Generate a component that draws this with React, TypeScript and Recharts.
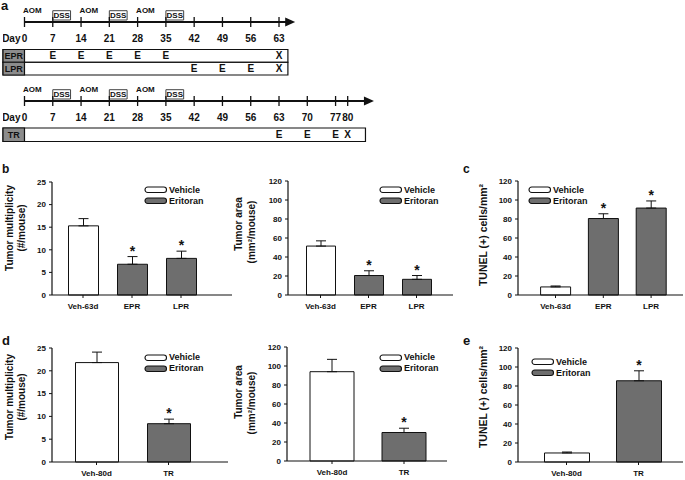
import React from "react";
import {
  BarChart,
  Bar,
  XAxis,
  YAxis,
  Cell,
  ErrorBar,
  LabelList,
  Legend,
  ScatterChart,
  Scatter,
  ReferenceArea,
  ReferenceLine,
} from "recharts";

const FONT = '"Liberation Sans", Arial, Helvetica, sans-serif';
const INK = "#111111";
const WHITE = "#ffffff";
const BAR_GRAY = "#6e6e6e";
const CELL_GRAY = "#8c8c8c";

// schedule (panel a)
const DAYS_A = [0, 7, 14, 21, 28, 35, 42, 49, 56, 63];
const DAYS_B = [0, 7, 14, 21, 28, 35, 42, 49, 56, 63, 70, 77, 80];
const AOM_DAYS = [0, 14, 28];
const DSS_DAYS = [7, 21, 35];
const DSS_LENGTH = 4.4;
const EPR_DOSES = [7, 14, 21, 28, 35];
const LPR_DOSES = [42, 49, 56];
const TR_DOSES = [63, 70, 77];
const END_A = 63;
const END_B = 80;

// bar panels (b-e)
const LEGEND_ITEMS = ["Vehicle", "Eritoran"];
const GROUPS_63 = ["Veh-63d", "EPR", "LPR"];
const MULT_63 = [15.3, 6.8, 8.1];
const MULT_63_ERR = [1.6, 1.7, 1.6];
const AREA_63 = [51.5, 20.5, 16.5];
const AREA_63_ERR = [5.5, 5, 4];
const TUNEL_63 = [8.5, 80.5, 91.5];
const TUNEL_63_ERR = [1, 5, 7.5];
const SIG_63 = [false, true, true];

const GROUPS_80 = ["Veh-80d", "TR"];
const MULT_80 = [21.8, 8.4];
const MULT_80_ERR = [2.3, 1.0];
const AREA_80 = [94, 30];
const AREA_80_ERR = [13, 4.5];
const TUNEL_80 = [9.5, 85.5];
const TUNEL_80_ERR = [1, 10.5];
const SIG_80 = [false, true];

const TICKS_25 = [0, 5, 10, 15, 20, 25];
const TICKS_120 = [0, 20, 40, 60, 80, 100, 120];

const txt = { fontFamily: FONT, fontWeight: 700, fill: INK } as const;

// ---------- schedule ----------
const DAY_PX = 4.04;
const DAY_MIN = -5.32;
const AXIS_TOP = 22;

type ScheduleRow = { name: string; doses: number[]; end: number };
const ROWS_A: ScheduleRow[] = [
  { name: "EPR", doses: EPR_DOSES, end: END_A },
  { name: "LPR", doses: LPR_DOSES, end: END_A },
];
const ROWS_B: ScheduleRow[] = [{ name: "TR", doses: TR_DOSES, end: END_B }];

const TickShape = (p: any) => (
  <g>
    <line x1={p.cx} x2={p.cx} y1={p.cy - 5} y2={p.cy + 5} stroke={INK} strokeWidth={1.3} />
    <text x={p.cx} y={p.cy + 19.5} textAnchor="middle" fontSize={10} {...txt}>
      {p.payload.day}
    </text>
    {p.payload.day === 0 && (
      <text x={p.cx - 4} y={p.cy + 19.5} textAnchor="end" fontSize={10} {...txt}>
        Day
      </text>
    )}
  </g>
);

const AomShape = (p: any) => (
  <text x={p.cx - 1.5} y={p.cy - 9.5} textAnchor="start" fontSize={8} {...txt}>
    AOM
  </text>
);

const MarkShape = (p: any) => (
  <text x={p.cx} y={p.cy + 3.6} textAnchor="middle" fontSize={10} {...txt}>
    {p.payload.mark}
  </text>
);

const ArrowShape = (p: any) => (
  <polygon
    points={`${p.cx},${p.cy} ${p.cx - 10},${p.cy - 4.5} ${p.cx - 10},${p.cy + 4.5}`}
    fill={INK}
  />
);

function Schedule({
  top,
  height,
  maxDay,
  days,
  rows,
  rowGap,
  rowHeight,
  boxEnd,
  lineEnd,
  tipDay,
}: {
  top: number;
  height: number;
  maxDay: number;
  days: number[];
  rows: ScheduleRow[];
  rowGap: number;
  rowHeight: number;
  boxEnd: number;
  lineEnd: number;
  tipDay: number;
}) {
  const plotW = (maxDay - DAY_MIN) * DAY_PX;
  const width = Math.ceil(3 + plotW + 1);
  const right = width - 3 - plotW;
  const lanes = rows.map((r, i) => {
    const y0 = rowGap + i * rowHeight;
    return { ...r, y0, y1: y0 + rowHeight, yc: y0 + rowHeight / 2 };
  });
  return (
    <div style={{ position: "absolute", left: 0, top }}>
      <ScatterChart width={width} height={height} margin={{ top: 0, right, bottom: 0, left: 3 }}>
        <XAxis type="number" dataKey="day" domain={[DAY_MIN, maxDay]} hide allowDataOverflow />
        <YAxis
          type="number"
          dataKey="y"
          domain={[-AXIS_TOP, height - AXIS_TOP]}
          reversed
          hide
          allowDataOverflow
        />
        <ReferenceLine
          segment={[
            { x: 0, y: 0 },
            { x: lineEnd, y: 0 },
          ]}
          stroke={INK}
          strokeWidth={2.2}
        />
        {DSS_DAYS.map((d) => (
          <ReferenceArea
            key={d}
            x1={d}
            x2={d + DSS_LENGTH}
            y1={-11.3}
            y2={-2}
            fill={WHITE}
            fillOpacity={1}
            stroke="#444"
            strokeWidth={1}
            label={{ value: "DSS", position: "center", fontSize: 8, fontWeight: 700, fill: INK, fontFamily: FONT }}
          />
        ))}
        {lanes.map((r) => (
          <ReferenceArea
            key={r.name + "box"}
            x1={DAY_MIN}
            x2={boxEnd}
            y1={r.y0}
            y2={r.y1}
            fill="none"
            stroke={INK}
            strokeWidth={1.2}
          />
        ))}
        {lanes.map((r) => (
          <ReferenceArea
            key={r.name + "cell"}
            x1={DAY_MIN}
            x2={0}
            y1={r.y0}
            y2={r.y1}
            fill={CELL_GRAY}
            fillOpacity={1}
            stroke={INK}
            strokeWidth={1.2}
            label={{ value: r.name, position: "center", fontSize: 9, fontWeight: 700, fill: INK, fontFamily: FONT }}
          />
        ))}
        <Scatter
          data={days.map((d) => ({ day: d, y: 0 }))}
          shape={TickShape}
          isAnimationActive={false}
        />
        <Scatter
          data={AOM_DAYS.map((d) => ({ day: d, y: 0 }))}
          shape={AomShape}
          isAnimationActive={false}
        />
        <Scatter data={[{ day: tipDay, y: 0 }]} shape={ArrowShape} isAnimationActive={false} />
        {lanes.map((r) => (
          <Scatter
            key={r.name + "marks"}
            data={[
              ...r.doses.map((d) => ({ day: d, y: r.yc, mark: "E" })),
              { day: r.end, y: r.yc, mark: "X" },
            ]}
            shape={MarkShape}
            isAnimationActive={false}
          />
        ))}
      </ScatterChart>
    </div>
  );
}

// ---------- bar panels ----------
type Panel = {
  id: string;
  box: [number, number, number, number];
  plot: { left: number; top: number; bottom: number; right: number };
  pad: [number, number];
  barSize: number;
  yMax: number;
  yTicks: number[];
  title: string[];
  titleX: number[];
  titleY: number[];
  legend: [number, number];
  cats: string[];
  means: number[];
  errs: number[];
  sig: boolean[];
};

const PANELS: Panel[] = [
  {
    id: "b1",
    box: [0, 160, 240, 160],
    plot: { left: 52, top: 182, bottom: 295, right: 232 },
    pad: [6.5, 26.5],
    barSize: 30,
    yMax: 25,
    yTicks: TICKS_25,
    title: ["Tumor multiplicity", "(#/mouse)"],
    titleX: [9, 21.5],
    titleY: [228, 228],
    legend: [145, 190],
    cats: GROUPS_63,
    means: MULT_63,
    errs: MULT_63_ERR,
    sig: SIG_63,
  },
  {
    id: "b2",
    box: [230, 160, 230, 160],
    plot: { left: 288, top: 181, bottom: 295, right: 453 },
    pad: [8.5, 12.5],
    barSize: 29,
    yMax: 120,
    yTicks: TICKS_120,
    title: ["Tumor area", "(mm\u00b2/mouse)"],
    titleX: [238, 251],
    titleY: [224, 232],
    legend: [380, 190],
    cats: GROUPS_63,
    means: AREA_63,
    errs: AREA_63_ERR,
    sig: SIG_63,
  },
  {
    id: "c",
    box: [455, 160, 230, 160],
    plot: { left: 518, top: 181, bottom: 295, right: 683 },
    pad: [13.6, 8],
    barSize: 30,
    yMax: 120,
    yTicks: TICKS_120,
    title: ["TUNEL (+) cells/mm\u00b2"],
    titleX: [483],
    titleY: [235],
    legend: [529, 190],
    cats: GROUPS_63,
    means: TUNEL_63,
    errs: TUNEL_63_ERR,
    sig: SIG_63,
  },
  {
    id: "d1",
    box: [0, 325, 240, 155],
    plot: { left: 52, top: 348, bottom: 462, right: 228 },
    pad: [8.5, 23.5],
    barSize: 43,
    yMax: 25,
    yTicks: TICKS_25,
    title: ["Tumor multiplicity", "(#/mouse)"],
    titleX: [9, 21.5],
    titleY: [397, 397],
    legend: [145, 357.5],
    cats: GROUPS_80,
    means: MULT_80,
    errs: MULT_80_ERR,
    sig: SIG_80,
  },
  {
    id: "d2",
    box: [230, 325, 230, 155],
    plot: { left: 287, top: 347, bottom: 461, right: 447 },
    pad: [9, 7],
    barSize: 44,
    yMax: 120,
    yTicks: TICKS_120,
    title: ["Tumor area", "(mm\u00b2/mouse)"],
    titleX: [238, 251],
    titleY: [392, 403],
    legend: [380, 357.5],
    cats: GROUPS_80,
    means: AREA_80,
    errs: AREA_80_ERR,
    sig: SIG_80,
  },
  {
    id: "e",
    box: [455, 325, 230, 155],
    plot: { left: 518, top: 348, bottom: 462, right: 683 },
    pad: [12.5, 8.5],
    barSize: 45,
    yMax: 120,
    yTicks: TICKS_120,
    title: ["TUNEL (+) cells/mm\u00b2"],
    titleX: [483],
    titleY: [397],
    legend: [532, 362],
    cats: GROUPS_80,
    means: TUNEL_80,
    errs: TUNEL_80_ERR,
    sig: SIG_80,
  },
];

function AxisTitle({ lines, xs, ys }: { lines: string[]; xs: number[]; ys: number[] }) {
  return (
    <g>
      {lines.map((t, i) => (
        <text
          key={t}
          transform={`translate(${xs[i]},${ys[i]}) rotate(-90)`}
          textAnchor="middle"
          dominantBaseline="central"
          fontSize={t.startsWith("TUNEL") ? 10.5 : 10}
          {...txt}
        >
          {t}
        </text>
      ))}
    </g>
  );
}

function LegendBox() {
  return (
    <div style={{ fontFamily: FONT, fontSize: 9, fontWeight: 700, color: INK, lineHeight: "11px" }}>
      {LEGEND_ITEMS.map((name, i) => (
        <div key={name} style={{ display: "flex", alignItems: "center", height: 11 }}>
          <svg width={24} height={8} style={{ display: "block" }}>
            <rect
              x={1}
              y={1}
              width={21.5}
              height={5.5}
              rx={2.75}
              fill={i === 0 ? WHITE : BAR_GRAY}
              stroke={INK}
              strokeWidth={1.1}
            />
          </svg>
          <span style={{ marginLeft: 1 }}>{name}</span>
        </div>
      ))}
    </div>
  );
}

function BarPanel({ p }: { p: Panel }) {
  const [left, top, w, h] = p.box;
  const yAxisW = 20;
  const xAxisH = 20;
  const margin = {
    left: p.plot.left - left - yAxisW,
    top: p.plot.top - top,
    right: left + w - p.plot.right,
    bottom: top + h - p.plot.bottom - xAxisH,
  };
  const data = p.cats.map((cat, i) => ({
    cat,
    mean: p.means[i],
    errRange: [0, p.errs[i]],
  }));

  const renderStar = (props: any) => {
    const vb = props.viewBox && props.viewBox.width != null ? props.viewBox : props;
    const { x, y, width, height } = vb;
    const i = props.index ?? data.findIndex((d) => d.mean === Number(props.value));
    if (i < 0 || !p.sig[i]) return null;
    const v = p.means[i];
    const errTop = y - (p.errs[i] * height) / v;
    return (
      <text x={x + width / 2} y={errTop - 1} textAnchor="middle" fontSize={14} {...txt}>
        *
      </text>
    );
  };

  return (
    <div style={{ position: "absolute", left, top }}>
      <BarChart width={w} height={h} data={data} margin={margin}>
        <XAxis
          dataKey="cat"
          height={xAxisH}
          padding={{ left: p.pad[0], right: p.pad[1] }}
          interval={0}
          tick={{ fontSize: 8, fontWeight: 700, fill: INK, fontFamily: FONT }}
          tickSize={3}
          tickMargin={5}
          axisLine={{ stroke: INK, strokeWidth: 1.2 }}
          tickLine={{ stroke: INK }}
        />
        <YAxis
          width={yAxisW}
          type="number"
          domain={[0, p.yMax]}
          ticks={p.yTicks}
          interval={0}
          tick={{ fontSize: 8, fontWeight: 700, fill: INK, fontFamily: FONT }}
          tickSize={3}
          tickMargin={3}
          axisLine={{ stroke: INK, strokeWidth: 1.2 }}
          tickLine={{ stroke: INK }}
          label={
            <AxisTitle
              lines={p.title}
              xs={p.titleX.map((x) => x - left)}
              ys={p.titleY.map((y) => y - top)}
            />
          }
        />
        <Legend
          layout="vertical"
          align="center"
          verticalAlign="middle"
          content={() => <LegendBox />}
          wrapperStyle={{ left: p.legend[0] - left - 1, top: p.legend[1] - top - 5.5, width: 80, height: 22 }}
        />
        <Bar dataKey="mean" barSize={p.barSize} stroke={INK} strokeWidth={1} isAnimationActive={false}>
          {data.map((d, i) => (
            <Cell key={d.cat} fill={i === 0 ? WHITE : BAR_GRAY} />
          ))}
          <ErrorBar dataKey="errRange" width={5} stroke={INK} strokeWidth={1} isAnimationActive={false} />
          <LabelList dataKey="mean" content={renderStar} />
        </Bar>
      </BarChart>
    </div>
  );
}

export default function App() {
  return (
    <div
      style={{
        position: "absolute",
        left: 0,
        top: 0,
        width: 685,
        height: 480,
        background: WHITE,
        overflow: "hidden",
      }}
    >
      <Schedule
        top={0}
        height={78}
        maxDay={68}
        days={DAYS_A}
        rows={ROWS_A}
        rowGap={27.5}
        rowHeight={12.75}
        boxEnd={65.2}
        lineEnd={65}
        tipDay={67}
      />
      <Schedule
        top={79}
        height={66}
        maxDay={87}
        days={DAYS_B}
        rows={ROWS_B}
        rowGap={27}
        rowHeight={13.5}
        boxEnd={84.4}
        lineEnd={84.3}
        tipDay={86.5}
      />
      {PANELS.map((p) => (
        <BarPanel key={p.id} p={p} />
      ))}
      <svg
        width={685}
        height={480}
        style={{ position: "absolute", left: 0, top: 0, pointerEvents: "none" }}
      >
        <text x={1} y={9.5} fontSize={13} {...txt}>a</text>
        <text x={2} y={173} fontSize={12} {...txt}>b</text>
        <text x={463} y={173} fontSize={12} {...txt}>c</text>
        <text x={2} y={345} fontSize={13} {...txt}>d</text>
        <text x={463} y={345} fontSize={13} {...txt}>e</text>
      </svg>
    </div>
  );
}
